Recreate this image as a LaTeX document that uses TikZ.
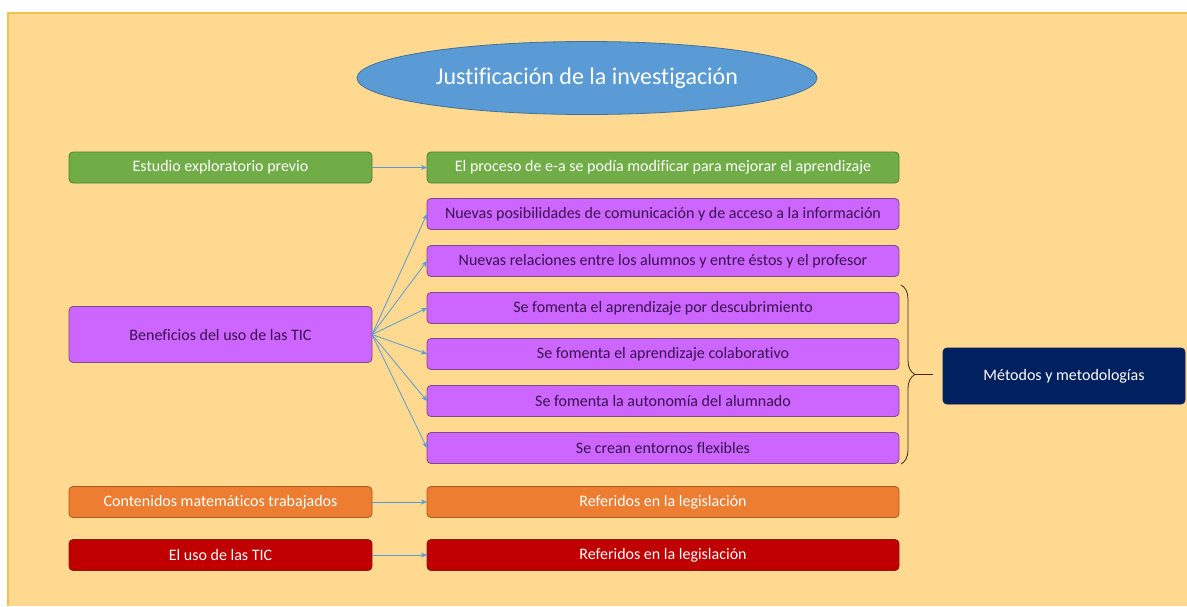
\documentclass[tikz,border=0pt]{standalone}
\usepackage{fontspec}
\setmainfont{Carlito}[Ligatures=NoCommon]
\usetikzlibrary{arrows.meta,decorations.pathreplacing,shapes.geometric}

\definecolor{bgfill}{HTML}{FFD98F}
\definecolor{bgline}{HTML}{F2C14E}
\definecolor{skyblue}{HTML}{5B9BD5}
\definecolor{skyedge}{HTML}{41719C}
\definecolor{grfill}{HTML}{70AD47}
\definecolor{gredge}{HTML}{507E32}
\definecolor{pufill}{HTML}{CC66FF}
\definecolor{puedge}{HTML}{7E4A8A}
\definecolor{putext}{HTML}{3A1050}
\definecolor{orfill}{HTML}{ED7D31}
\definecolor{oredge}{HTML}{AE5A21}
\definecolor{rdfill}{HTML}{C00000}
\definecolor{rdedge}{HTML}{8B1A1A}
\definecolor{nvfill}{HTML}{002060}
\definecolor{braceclr}{HTML}{3A2A1A}

\tikzset{
  x=1pt, y=-1pt,
  box/.style={rounded corners=4pt, line width=0.8pt, inner sep=0pt, outer sep=0pt,
    font=\fontsize{16}{18}\selectfont},
  leftbox/.style={box, minimum width=303pt, minimum height=31pt},
  rightbox/.style={box, minimum width=472pt, minimum height=31pt},
  greenbox/.style={fill=grfill, draw=gredge, text=white},
  purplebox/.style={fill=pufill, draw=puedge, text=putext},
  orangebox/.style={fill=orfill, draw=oredge, text=white},
  redbox/.style={fill=rdfill, draw=rdedge, text=white},
  link/.style={draw=skyblue, line width=0.8pt, -{Stealth[length=6pt,width=5pt]}},
}

\begin{document}
\begin{tikzpicture}
  % page and slide background
  \useasboundingbox (0,0) rectangle (1187,606);
  \fill[white] (0,0) rectangle (1187,606);
  \fill[bgfill] (8,13) rectangle (1187,606);
  \draw[bgline, line width=1.2pt] (8,606) -- (8,13) -- (1187,13);

  % title
  \node[ellipse, fill=skyblue, draw=skyedge, line width=0.8pt,
        minimum width=460pt, minimum height=73pt, inner sep=0pt,
        text=white, font=\fontsize{24}{28}\selectfont] (title) at (587,78)
        {Justificación de la investigación};

  % left column
  \node[leftbox, greenbox] (estudio) at (220.5,167.5) {Estudio exploratorio previo};
  \node[leftbox, purplebox, minimum height=56pt] (benef) at (220.5,334.5) {Beneficios del uso de las TIC};
  \node[leftbox, orangebox] (conten) at (220.5,502) {Contenidos matemáticos trabajados};
  \node[leftbox, redbox] (usotic) at (220.5,555) {El uso de las TIC};

  % right column
  \node[rightbox, greenbox] (proceso) at (663,167.5) {El proceso de e-a se podía modificar para mejorar el aprendizaje};
  \node[rightbox, purplebox] (b1) at (663,214) {Nuevas posibilidades de comunicación y de acceso a la información};
  \node[rightbox, purplebox] (b2) at (663,261) {Nuevas relaciones entre los alumnos y entre éstos y el profesor};
  \node[rightbox, purplebox] (b3) at (663,308) {Se fomenta el aprendizaje por descubrimiento};
  \node[rightbox, purplebox] (b4) at (663,354) {Se fomenta el aprendizaje colaborativo};
  \node[rightbox, purplebox] (b5) at (663,401) {Se fomenta la autonomía del alumnado};
  \node[rightbox, purplebox] (b6) at (663,448) {Se crean entornos flexibles};
  \node[rightbox, orangebox] (ref1) at (663,502) {Referidos en la legislación};
  \node[rightbox, redbox] (ref2) at (663,555) {Referidos en la legislación};

  % methods box
  \node[box, fill=nvfill, draw=nvfill, text=white, minimum width=242pt, minimum height=56pt]
        (metodos) at (1064,376) {Métodos y metodologías};

  % straight links
  \draw[link] (estudio.east) -- (proceso.west);
  \draw[link] (conten.east) -- (ref1.west);
  \draw[link] (usotic.east) -- (ref2.west);

  % fan of links from the benefits box
  \foreach \t in {b1,b2,b3,b4,b5,b6}
    \draw[link] (benef.east) -- (\t.west);

  % brace grouping the four methodological benefits
  \coordinate (bracetop) at (901,285);
  \coordinate (bracebot) at (901,464);
  \draw[braceclr, line width=0.8pt, decorate,
        decoration={brace, amplitude=14pt, aspect=0.5}]
        (bracetop) -- (bracebot);
  \coordinate (bracetip) at (915,374.5);
  \draw[braceclr, line width=0.8pt] (bracetip) -- (933,374.5);
\end{tikzpicture}
\end{document}
